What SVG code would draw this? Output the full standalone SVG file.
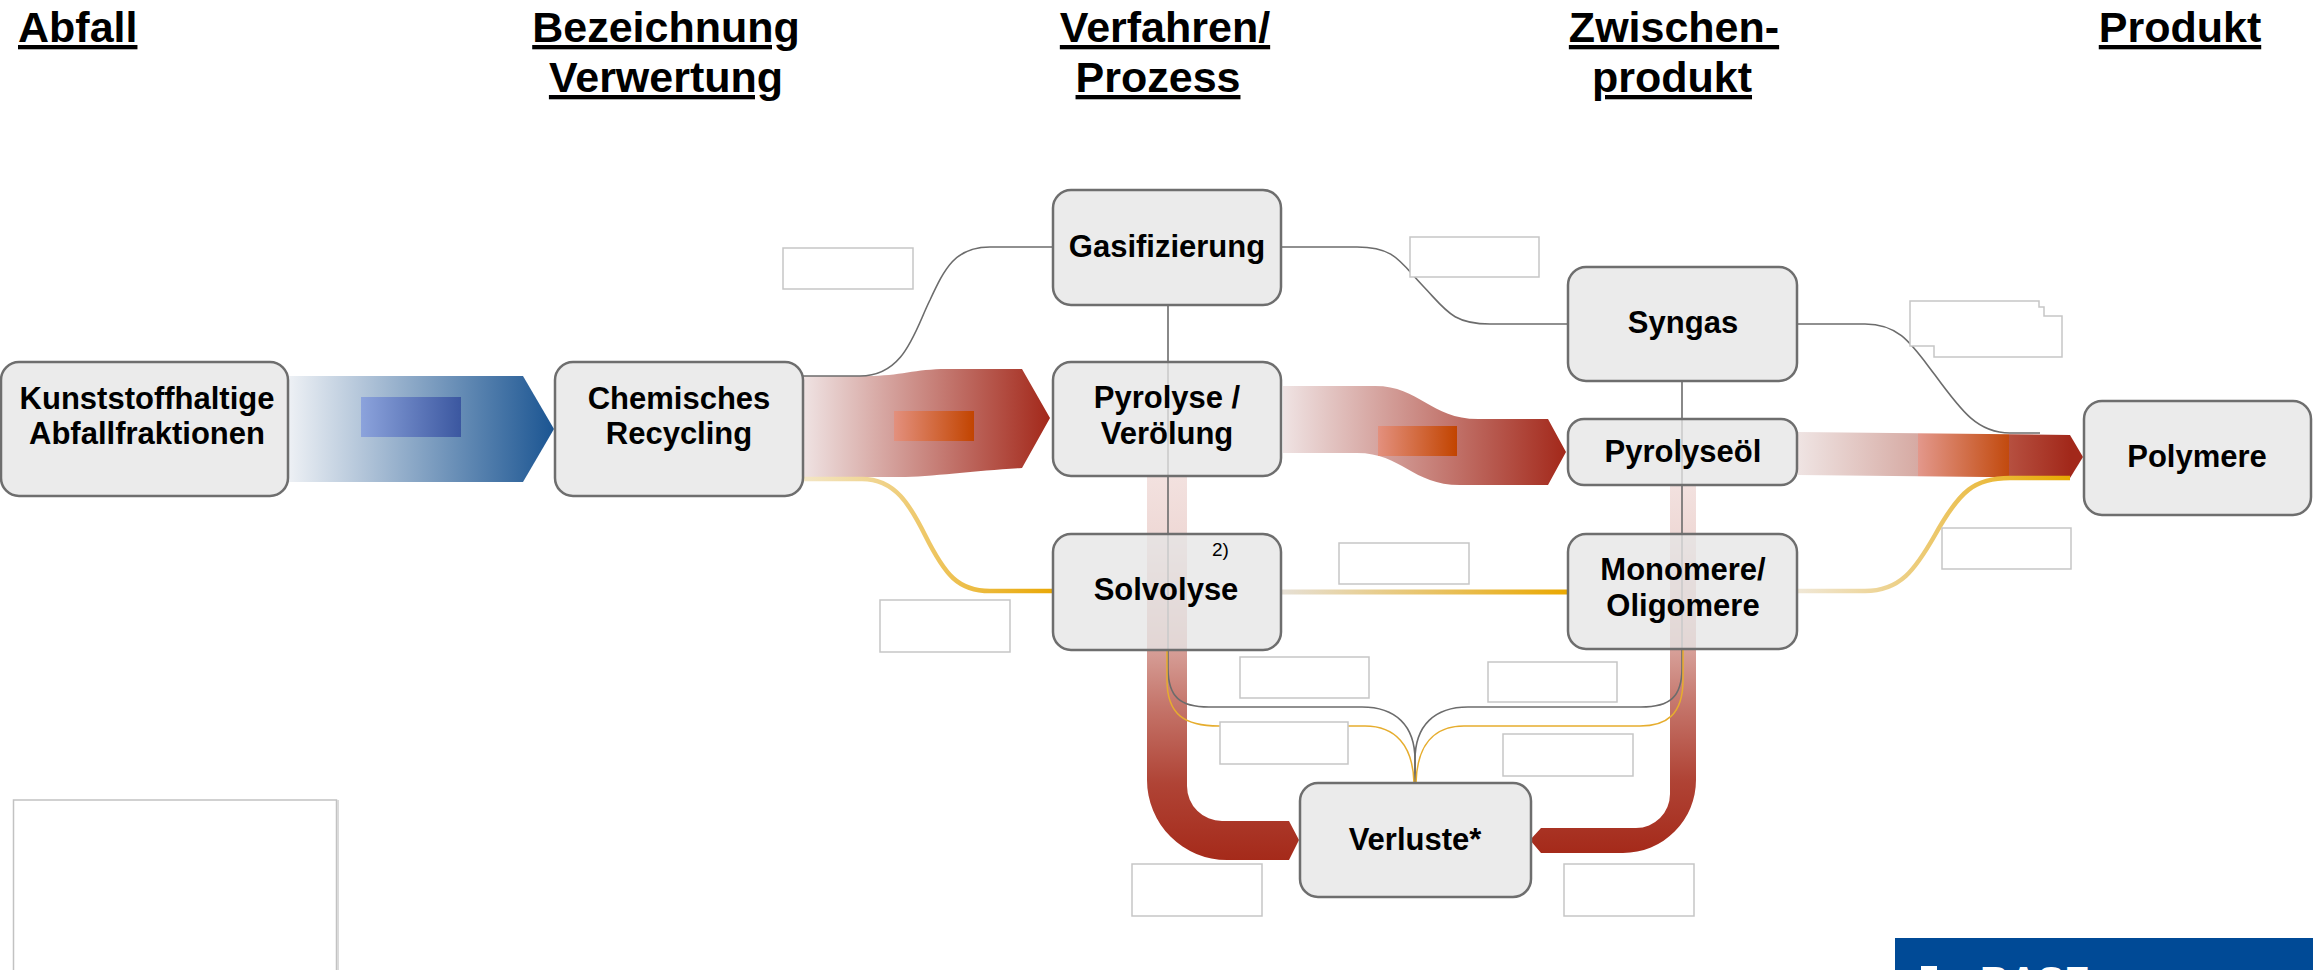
<svg xmlns="http://www.w3.org/2000/svg" width="2313" height="970" viewBox="0 0 2313 970">
<style>
.hd{font:bold 43px "Liberation Sans",Arial,sans-serif;text-decoration:underline;fill:#000}
.nt{font:bold 31px "Liberation Sans",Arial,sans-serif;text-anchor:middle;fill:#000}
.box{fill:#e6e6e6;fill-opacity:0.78;stroke:#6e6e6e;stroke-width:2.5}
.lbl{fill:#fff;stroke:#c6c6c6;stroke-width:1.5}
.gl{fill:none;stroke:#6c6c6c;stroke-width:1.6}
.yl{fill:none;stroke:#e6ad2e;stroke-width:1.5}
</style>
<defs>
<linearGradient id="gBlue" x1="0" x2="1" y1="0" y2="0"><stop offset="0" stop-color="#eef1f5"/><stop offset="1" stop-color="#1b5592"/></linearGradient>
<linearGradient id="gBlueIn" x1="0" x2="1" y1="0" y2="0"><stop offset="0" stop-color="#8ca3dc"/><stop offset="1" stop-color="#3b57a0"/></linearGradient>
<linearGradient id="gRed" x1="0" x2="1" y1="0" y2="0"><stop offset="0" stop-color="#efe3e3"/><stop offset="1" stop-color="#a3281a"/></linearGradient>
<linearGradient id="gRedIn" x1="0" x2="1" y1="0" y2="0"><stop offset="0" stop-color="#e3907e"/><stop offset="1" stop-color="#c24400"/></linearGradient>
<linearGradient id="gRedP" x1="0" x2="1" y1="0" y2="0">
<stop offset="0" stop-color="#efe4e3"/><stop offset="0.42" stop-color="#d6aaa3"/>
<stop offset="0.42" stop-color="#e3988c"/><stop offset="0.74" stop-color="#c24a0e"/>
<stop offset="0.74" stop-color="#b65040"/><stop offset="0.955" stop-color="#a2281a"/><stop offset="1" stop-color="#a2281a"/>
</linearGradient>
<linearGradient id="gLoopL" gradientUnits="userSpaceOnUse" x1="0" y1="477" x2="0" y2="860">
<stop offset="0" stop-color="#a52a1a" stop-opacity="0.14"/><stop offset="0.15" stop-color="#a52a1a" stop-opacity="0.18"/>
<stop offset="0.45" stop-color="#a52a1a" stop-opacity="0.45"/><stop offset="0.6" stop-color="#a52a1a" stop-opacity="0.65"/>
<stop offset="0.8" stop-color="#a52a1a" stop-opacity="0.88"/><stop offset="1" stop-color="#a52a1a" stop-opacity="1"/>
</linearGradient>
<linearGradient id="gLoopR" gradientUnits="userSpaceOnUse" x1="0" y1="486" x2="0" y2="853">
<stop offset="0" stop-color="#a52a1a" stop-opacity="0.14"/><stop offset="0.13" stop-color="#a52a1a" stop-opacity="0.18"/>
<stop offset="0.45" stop-color="#a52a1a" stop-opacity="0.45"/><stop offset="0.6" stop-color="#a52a1a" stop-opacity="0.65"/>
<stop offset="0.8" stop-color="#a52a1a" stop-opacity="0.88"/><stop offset="1" stop-color="#a52a1a" stop-opacity="1"/>
</linearGradient>
<linearGradient id="gY1" gradientUnits="userSpaceOnUse" x1="803" y1="0" x2="1053" y2="0"><stop offset="0" stop-color="#f3e6c6"/><stop offset="1" stop-color="#e9a806"/></linearGradient>
<linearGradient id="gY2" gradientUnits="userSpaceOnUse" x1="1281" y1="0" x2="1568" y2="0"><stop offset="0" stop-color="#e6e0d6"/><stop offset="1" stop-color="#eaa800"/></linearGradient>
<linearGradient id="gY3" gradientUnits="userSpaceOnUse" x1="1797" y1="0" x2="2070" y2="0"><stop offset="0" stop-color="#f0e8d8"/><stop offset="1" stop-color="#e8a800"/></linearGradient>
</defs>
<rect width="2313" height="970" fill="#fff"/>

<g id="headers">
<text class="hd" x="18" y="42">Abfall</text>
<text class="hd" x="666" y="42" text-anchor="middle">Bezeichnung</text>
<text class="hd" x="666" y="92" text-anchor="middle">Verwertung</text>
<text class="hd" x="1165" y="42" text-anchor="middle">Verfahren/</text>
<text class="hd" x="1158" y="92" text-anchor="middle">Prozess</text>
<text class="hd" x="1674" y="42" text-anchor="middle">Zwischen-</text>
<text class="hd" x="1672" y="92" text-anchor="middle">produkt</text>
<text class="hd" x="2180" y="42" text-anchor="middle">Produkt</text>
</g>

<g id="connectors">
<path d="M288,376 H523 L554,429 L523,482 H288 Z" fill="url(#gBlue)"/>
<rect x="361" y="397" width="100" height="40" fill="url(#gBlueIn)"/>
<path d="M803,376 H867 C900,376 915,369 947,369 H1022 L1050,418 L1022,468 C980,470 930,477 900,477 H803 Z" fill="url(#gRed)"/>
<rect x="894" y="411" width="80" height="30" fill="url(#gRedIn)"/>
<path d="M1283,386 H1375 C1420,386 1430,419 1478,419 H1548 L1566,452 L1548,485 H1460 C1412,485 1402,453 1357,453 H1283 Z" fill="url(#gRed)"/>
<rect x="1378" y="426" width="79" height="30" fill="url(#gRedIn)"/>
<path d="M1798,432 L2070,435 L2083,457 L2070,478 L1798,475 Z" fill="url(#gRedP)"/>
<path d="M1147,477 H1187 V786 A35,35 0 0 0 1222,821 H1289 L1299,840 L1289,860 H1227 A80,80 0 0 1 1147,780 Z" fill="url(#gLoopL)"/>
<path d="M1670,486 H1696 V780 A73,73 0 0 1 1623,853 H1541 L1530,840 L1541,828 H1636 A34,34 0 0 0 1670,794 Z" fill="url(#gLoopR)"/>
<path class="gl" d="M803,376 H860 C905,376 915,330 930,300 C945,268 955,247 990,247 H1053"/>
<path class="gl" d="M1281,247 H1357 C1395,247 1400,262 1423,286 C1446,310 1452,324 1490,324 H1568"/>
<path class="gl" d="M1797,324 H1865 C1900,324 1912,345 1935,375 C1962,412 1978,433 2010,433 H2040"/>
<path class="gl" d="M1168,305 V668 C1168,697 1180,707 1209,707 H1362 C1395,707 1415,725 1415,760 V783"/>
<path class="gl" d="M1682,381 V668 C1682,697 1670,707 1641,707 H1468 C1435,707 1415,725 1415,760 V783"/>
<path class="yl" d="M1167,650 V680 C1167,715 1185,726 1219,726 H1365 C1395,726 1413,745 1414,783"/>
<path class="yl" d="M1683,650 V680 C1683,715 1666,726 1640,726 H1464 C1434,726 1417,745 1416,783"/>
<path d="M803,479 H862 C895,479 910,505 925,535 C945,575 958,591 990,591 H1053" fill="none" stroke="url(#gY1)" stroke-width="4.5"/>
<path d="M1281,592 H1568" fill="none" stroke="url(#gY2)" stroke-width="5"/>
<path d="M1797,591 H1865 C1900,591 1915,570 1935,535 C1960,490 1975,478 2010,478 H2070" fill="none" stroke="url(#gY3)" stroke-width="4.5"/>
</g>

<g id="labels">
<rect class="lbl" x="783" y="248" width="130" height="41"/>
<rect class="lbl" x="1410" y="237" width="129" height="40"/>
<path class="lbl" d="M1910,301 H2039 V307 H2044 V316 H2062 V357 H1934 V346 H1910 Z"/>
<rect class="lbl" x="880" y="600" width="130" height="52"/>
<rect class="lbl" x="1339" y="543" width="130" height="41"/>
<rect class="lbl" x="1942" y="528" width="129" height="41"/>
<rect class="lbl" x="1240" y="657" width="129" height="41"/>
<rect class="lbl" x="1488" y="662" width="129" height="40"/>
<rect class="lbl" x="1220" y="722" width="128" height="42"/>
<rect class="lbl" x="1503" y="734" width="130" height="42"/>
<rect class="lbl" x="1132" y="864" width="130" height="52"/>
<rect class="lbl" x="1564" y="864" width="130" height="52"/>
<rect x="13.5" y="800" width="323" height="180" fill="#fff" stroke="#c2c2c2" stroke-width="1.5"/>
<line x1="338" y1="800" x2="338" y2="970" stroke="#dadada" stroke-width="2"/>
</g>

<g id="n_abfall"><rect class="box" x="1" y="362" width="287" height="134" rx="18"/>
<text class="nt" x="147" y="409">Kunststoffhaltige</text><text class="nt" x="147" y="444">Abfallfraktionen</text></g>
<g id="n_chem"><rect class="box" x="555" y="362" width="248" height="134" rx="18"/>
<text class="nt" x="679" y="409">Chemisches</text><text class="nt" x="679" y="444">Recycling</text></g>
<g id="n_gas"><rect class="box" x="1053" y="190" width="228" height="115" rx="18"/>
<text class="nt" x="1167" y="257">Gasifizierung</text></g>
<g id="n_pyro"><rect class="box" x="1053" y="362" width="228" height="114" rx="18"/>
<text class="nt" x="1167" y="408">Pyrolyse /</text><text class="nt" x="1167" y="444">Verölung</text></g>
<g id="n_solv"><rect class="box" x="1053" y="534" width="228" height="116" rx="18"/>
<text class="nt" x="1166" y="600">Solvolyse</text>
<text x="1212" y="556" font-family="Liberation Sans, Arial, sans-serif" font-size="19">2)</text></g>
<g id="n_syngas"><rect class="box" x="1568" y="267" width="229" height="114" rx="18"/>
<text class="nt" x="1683" y="333">Syngas</text></g>
<g id="n_pyrooel"><rect class="box" x="1568" y="419" width="229" height="66" rx="16"/>
<text class="nt" x="1683" y="462">Pyrolyseöl</text></g>
<g id="n_mono"><rect class="box" x="1568" y="534" width="229" height="115" rx="18"/>
<text class="nt" x="1683" y="580">Monomere/</text><text class="nt" x="1683" y="616">Oligomere</text></g>
<g id="n_poly"><rect class="box" x="2084" y="401" width="227" height="114" rx="18"/>
<text class="nt" x="2197" y="467">Polymere</text></g>
<g id="n_verluste"><rect class="box" x="1300" y="783" width="231" height="114" rx="18"/>
<text class="nt" x="1415" y="850">Verluste*</text></g>

<g id="logo">
<rect x="1895" y="938" width="418" height="32" fill="#004a96"/>
<rect x="1921" y="966" width="16" height="10" fill="#fff"/>
<text x="1980" y="995" font-family="Liberation Sans, Arial, sans-serif" font-weight="bold" font-size="40" fill="#fff">BASF</text>
</g>
</svg>
